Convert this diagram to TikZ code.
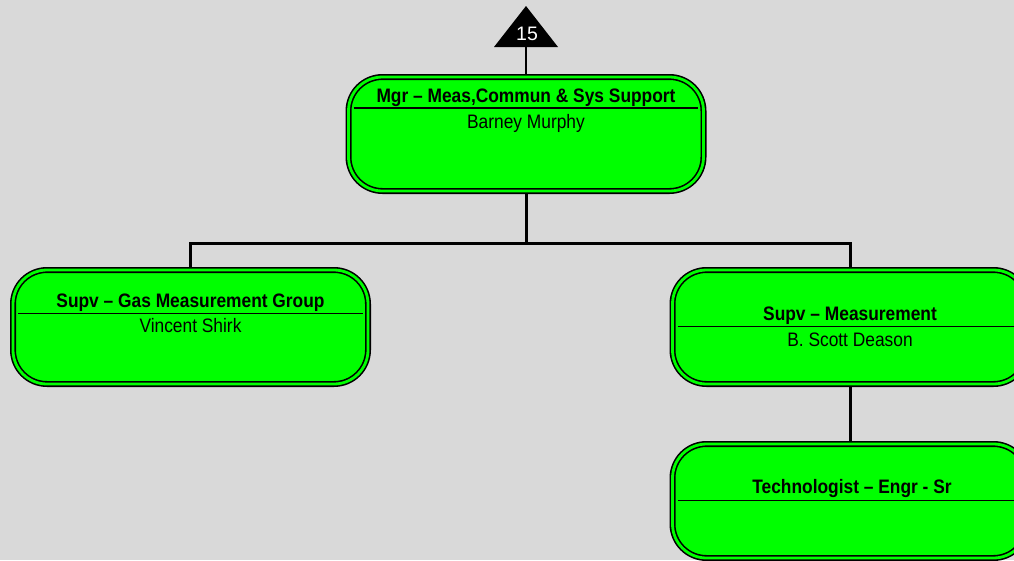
\documentclass[tikz,border=0pt]{standalone}
\usepackage{fontspec}
\setmainfont{Liberation Sans}
\newfontfamily\boxfont[FakeStretch=0.89]{Liberation Sans}
\definecolor{bggray}{RGB}{217,217,217}
\definecolor{boxgreen}{RGB}{0,255,0}
\pgfdeclarelayer{back}
\pgfsetlayers{back,main}
\tikzset{
  orgbox/.style={draw=black, line width=1.6pt, double=boxgreen, double distance=2.8pt,
    fill=boxgreen, rounded corners=34pt, minimum width=355pt, minimum height=114pt,
    inner sep=0pt},
  divider/.style={line width=1.3pt},
  conn/.style={line width=3pt},
  titletext/.style={anchor=base, inner sep=0pt, font=\boxfont\fontsize{19.5}{22}\selectfont\bfseries},
  nametext/.style={anchor=base, inner sep=0pt, font=\boxfont\fontsize{19.5}{22}\selectfont}
}
\begin{document}
\begin{tikzpicture}[x=1pt,y=-1pt]
                \useasboundingbox (0,0) rectangle (1014,560);
                
                % Marking the page number by a triangle
                \fill (494,47) -- (526,6) -- (558,47) -- cycle;%
                \coordinate (tri) at (526,47);%
                \node [anchor=base, inner sep=0pt, text=white, font=\fontsize{19.5}{22}\selectfont] (num) at (527,40) {15};%
                
                % Drawing box of the manager
                \node [orgbox] (mgr) at (526,134) {};%
                \draw [divider] ([xshift=6pt]mgr.west |- 0,108) -- ([xshift=-6pt]mgr.east |- 0,108);%
                \node [titletext] (mgrtitle) at (526,102) {Mgr – Meas,Commun \& Sys Support};%
                \node [nametext] (mgrname) at (526,128) {Barney Murphy};%
                
                % Drawing box of the gas group
                \node [orgbox] (gas) at (190.5,327) {};%
                \draw [divider] ([xshift=6pt]gas.west |- 0,313.3) -- ([xshift=-6pt]gas.east |- 0,313.3);%
                \node [titletext] (gastitle) at (190.5,307.7) {Supv – Gas Measurement Group};%
                \node [nametext] (gasname) at (190.5,332.7) {Vincent Shirk};%
                
                % Drawing box of measurement
                \node [orgbox] (meas) at (850,327) {};%
                \draw [divider] ([xshift=6pt]meas.west |- 0,326.7) -- ([xshift=-6pt]meas.east |- 0,326.7);%
                \node [titletext] (meastitle) at (850,320) {Supv – Measurement};%
                \node [nametext] (measname) at (850,346) {B. Scott Deason};%
                
                % Drawing box of the technologist
                \node [orgbox] (tech) at (850,501) {};%
                \draw [divider] ([xshift=6pt]tech.west |- 0,500.7) -- ([xshift=-6pt]tech.east |- 0,500.7);%
                \node [titletext] (techtitle) at (852,493.3) {Technologist – Engr - Sr};%
                
                \begin{pgfonlayer}{back}
                % Filling the page
                \fill [bggray] (0,0) rectangle (1014,560);%
                
                % Drawing the connectors
                \coordinate (fork) at (mgr.south |- 0,243);%
                \draw [line width=1.3pt] (tri) -- (mgr.north);%
                \draw [conn] (mgr.south) -- (fork) -| (gas.north);%
                \draw [conn] (fork) -| (meas.north);%
                \draw [conn] (meas.south) -- (tech.north);%
                \end{pgfonlayer}
\end{tikzpicture}
\end{document}
